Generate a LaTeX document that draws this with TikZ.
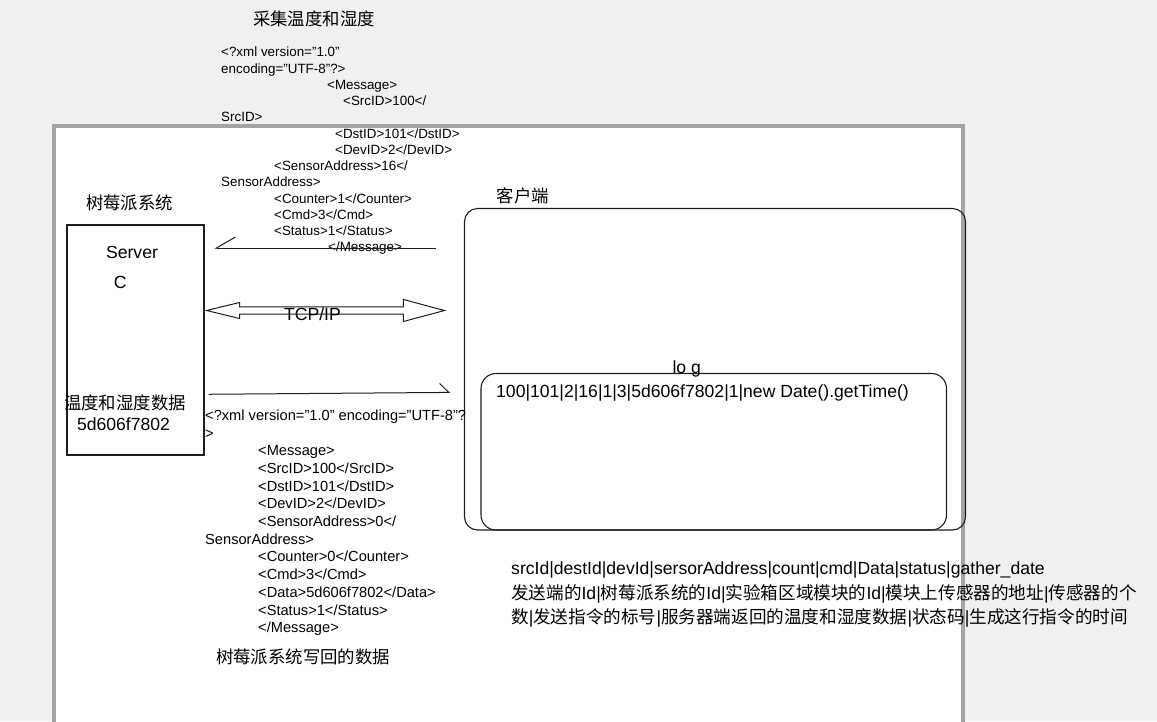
\documentclass[tikz,border=0pt]{standalone}
\usepackage{fontspec}
\setmainfont{Liberation Sans}
\newfontfamily\cjk{Noto Sans CJK SC}
\usetikzlibrary{arrows.meta}
\definecolor{bgcol}{HTML}{F1F0EF}
\definecolor{pagecol}{HTML}{A4A4A4}
\definecolor{linecol}{HTML}{1E1E1E}

\begin{document}
\begin{tikzpicture}[x=1pt,y=-1pt,every node/.style={inner sep=0pt},
zh/.style={font=\cjk\fontsize{17.4}{20}\selectfont},
big/.style={font=\fontsize{17.6}{24.7}\selectfont},
box/.style={draw=linecol,line width=1.1pt},
xmltop/.style={align=left,anchor=north west,font=\fontsize{13.4}{16.25}\selectfont},
xmlbot/.style={align=left,anchor=north west,font=\fontsize{14.65}{17.7}\selectfont},
tomsg/.style={draw=linecol,line width=1pt,shorten <=28pt,shorten >=10pt,-{Straight Barb[harpoon,swap,length=19pt,width=22pt]}},
fromsg/.style={draw=linecol,line width=1pt,shorten <=4pt,shorten >=14pt,-{Straight Barb[harpoon,length=9pt,width=18pt]}}]
\useasboundingbox[fill=bgcol] (0,0) rectangle (1157,721);
\draw[pagecol,line width=4pt,fill=white] (54,125.5) rectangle (963,740);

% raspberry pi side
\node[box,minimum width=137pt,minimum height=230pt] (server) at (135.5,340) {};
\node[zh] (piName) at (129.5,203) {树莓派系统};
\node[big] (serverLbl) at (132,252) {Server};
\node[big] (lang) at (120.3,282) {C};
\node[zh] (dataLbl) at (125,403) {温度和湿度数据};
\node[big] (dataVal) at (123.5,424) {5d606f7802};

% client side
\node[box,rounded corners=13pt,minimum width=501pt,minimum height=321.5pt] (client) at (715,369.25) {};
\node[zh] (clientName) at (523,196) {客户端};
\node[box,rounded corners=15pt,minimum width=465.5pt,minimum height=156.5pt] (log) at (713.75,451.75) {};
\node[big,anchor=base] (logName) at (686.7,373.5) {lo g};
\node[big,anchor=base west] (logLine) at (496,397) {100|101|2|16|1|3|5d606f7802|1|new Date().getTime()};

% messages
\node[zh] (title) at (314,19) {采集温度和湿度};
\node[xmltop] (msgIn) at (221,47) {<?xml version="1.0"\\
encoding="UTF-8"?>\\
\hspace*{106pt}<Message>\\
\hspace*{122pt}<SrcID>100</\\
SrcID>\\
\hspace*{114pt}<DstID>101</DstID>\\
\hspace*{114pt}<DevID>2</DevID>\\
\hspace*{53pt}<SensorAddress>16</\\
SensorAddress>\\
\hspace*{53pt}<Counter>1</Counter>\\
\hspace*{53pt}<Cmd>3</Cmd>\\
\hspace*{53pt}<Status>1</Status>\\
\hspace*{107pt}</Message>};
\node[xmlbot] (msgOut) at (205,409.5) {<?xml version="1.0" encoding="UTF-8"?\\
>\\
\hspace*{53pt}<Message>\\
\hspace*{53pt}<SrcID>100</SrcID>\\
\hspace*{53pt}<DstID>101</DstID>\\
\hspace*{53pt}<DevID>2</DevID>\\
\hspace*{53pt}<SensorAddress>0</\\
SensorAddress>\\
\hspace*{53pt}<Counter>0</Counter>\\
\hspace*{53pt}<Cmd>3</Cmd>\\
\hspace*{53pt}<Data>5d606f7802</Data>\\
\hspace*{53pt}<Status>1</Status>\\
\hspace*{53pt}</Message>};
\node[zh] (outName) at (303,657) {树莓派系统写回的数据};

\draw[tomsg] (client.west |- 0,248) -- (server.east |- 0,248);
\draw[fromsg] (server.east |- 0,394.3) -- (client.west |- 0,392.3);

% tcp/ip link
\coordinate (tcpL) at ([xshift=2pt]server.east |- 0,310.5);
\coordinate (tcpR) at ([xshift=-19.5pt]client.west |- 0,310.5);
\draw[linecol,line width=1pt] (tcpL) -- ([shift={(33,-8)}]tcpL) -- ([shift={(33,-3.7)}]tcpL)
 -- ([shift={(-41,-3.7)}]tcpR) -- ([shift={(-41,-11)}]tcpR) -- (tcpR) -- ([shift={(-41,11)}]tcpR)
 -- ([shift={(-41,3.7)}]tcpR) -- ([shift={(33,3.7)}]tcpL) -- ([shift={(33,8)}]tcpL) -- cycle;
\node[big] (proto) at (312.5,314) {TCP/IP};

% legend
\node[big,align=left,anchor=north west] (fields) at (511,561.4) {srcId|destId|devId|sersorAddress|count|cmd|Data|status|gather\_date\\
{\cjk 发送端的}Id|{\cjk 树莓派系统的}Id|{\cjk 实验箱区域模块的}Id|{\cjk 模块上传感器的地址}|{\cjk 传感器的个}\\
{\cjk 数}|{\cjk 发送指令的标号}|{\cjk 服务器端返回的温度和湿度数据}|{\cjk 状态码}|{\cjk 生成这行指令的时间}};
\end{tikzpicture}
\end{document}
